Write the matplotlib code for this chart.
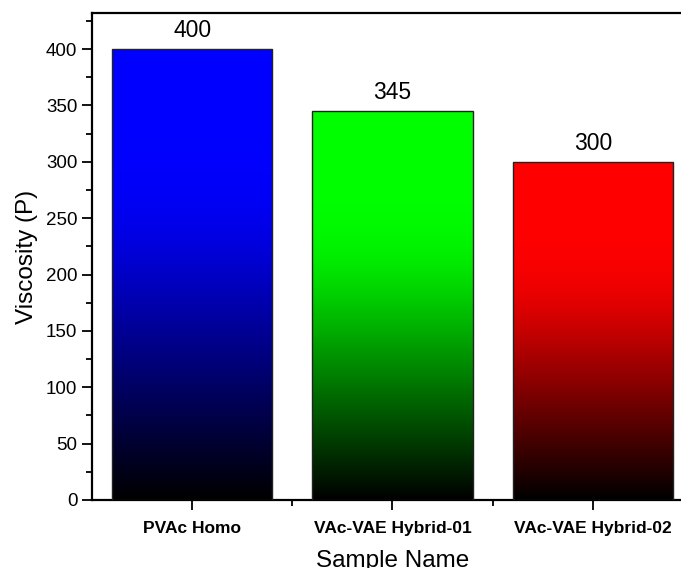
import numpy as np
import matplotlib
matplotlib.use('Agg')
from matplotlib import pyplot as plt
from matplotlib.ticker import MultipleLocator

plt.rcParams['font.family'] = ['Liberation Sans', 'DejaVu Sans']

samples = ['PVAc Homo', 'VAc-VAE Hybrid-01', 'VAc-VAE Hybrid-02']
viscosity = [400, 345, 300]
top_colors = [(0.0, 0.0, 1.0), (0.0, 1.0, 0.0), (1.0, 0.0, 0.0)]

fig = plt.figure(figsize=(6.81, 5.68), dpi=100)
# right side of the frame runs past the edge of the figure
ax = fig.add_axes([92/681, 68/568, 601/681, 487/568])

x = np.arange(1, len(samples) + 1)
width = 0.8
bars = ax.bar(x, viscosity, width, facecolor='none', edgecolor='#222222',
              linewidth=1.0, zorder=3)

# fade from black at the base, reaching the full colour about two thirds up
t = np.linspace(0, 1, 256)
u = t / 0.64
ramp = (u - np.log1p(np.exp(12 * (u - 1))) / 12).clip(0, 1).reshape(-1, 1)
for b, c in zip(bars, top_colors):
    img = ramp[..., None] * np.array(c)[None, None, :]
    x0, y0 = b.get_x(), b.get_y()
    w, h = b.get_width(), b.get_height()
    im = ax.imshow(img, extent=(x0, x0 + w, y0, y0 + h), origin='lower',
                   aspect='auto', interpolation='bilinear', zorder=2)
    im.set_clip_path(b)

for xi, v in zip(x, viscosity):
    ax.text(xi, v + 6, str(v), ha='center', va='bottom', fontsize=16.5)

ax.set_xlim(0.5, 3.5)
ax.set_ylim(0, 432)
ax.set_xticks(x)
ax.set_xticklabels(samples, fontweight='bold')
ax.set_xticks([1.5, 2.5], minor=True)
ax.yaxis.set_major_locator(MultipleLocator(50))
ax.yaxis.set_minor_locator(MultipleLocator(25))
ax.tick_params(axis='both', which='major', direction='out', length=7,
               width=1.3, labelsize=13.5)
ax.tick_params(axis='x', which='major', labelsize=12.5, pad=8)
ax.tick_params(axis='both', which='minor', direction='out', length=4, width=1.3)
for s in ax.spines.values():
    s.set_linewidth(1.6)

ax.set_xlabel('Sample Name', fontsize=17.5, labelpad=10)
ax.set_ylabel('Viscosity (P)', fontsize=17.5, labelpad=6)

fig.savefig('out.png', dpi=100)
